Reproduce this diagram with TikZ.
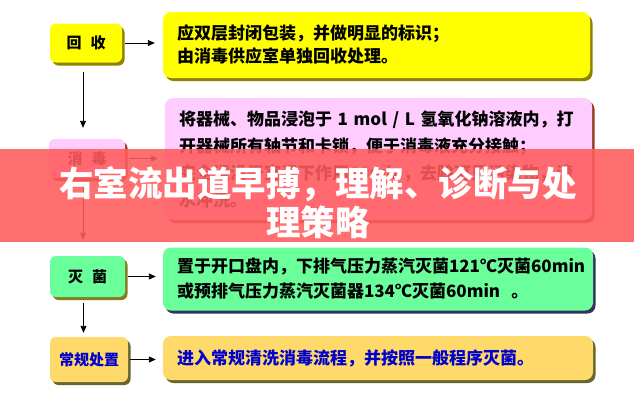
\documentclass[tikz,border=0pt]{standalone}
\usepackage{fontspec}
\newfontfamily\cjk{Noto Sans CJK SC}
\usetikzlibrary{arrows.meta,shadows}
\definecolor{yelF}{HTML}{FFFF00}
\definecolor{yelS}{HTML}{8F8200}
\definecolor{pinkF}{HTML}{FFCCFF}
\definecolor{pinkS}{HTML}{9A3A2A}
\definecolor{grnF}{HTML}{6BFF9B}
\definecolor{grnS}{HTML}{33335E}
\definecolor{grnSL}{HTML}{8A7A20}
\definecolor{orgF}{HTML}{FFD96A}
\definecolor{orgS}{HTML}{66662E}
\definecolor{txtblue}{HTML}{0000CC}
\definecolor{banner}{HTML}{FF5C5C}
\tikzset{
  rbox/.style={rounded corners=8pt, inner xsep=14pt, inner ysep=0pt, align=left,
    text width=#1, font=\cjk\bfseries\fontsize{17}{23}\selectfont},
  lbox/.style={rounded corners=6pt, align=center, inner sep=0pt,
    font=\cjk\bfseries\fontsize{15}{18}\selectfont},
  shad/.style={general shadow={shadow xshift=2.5pt, shadow yshift=-3pt, fill=#1}},
  arr/.style={-{Triangle[length=7pt,width=6pt]}, line width=0.9pt},
  bannertext/.style={text=white, font=\cjk\bfseries\fontsize{34.5}{39}\selectfont, inner sep=0pt}
}
\begin{document}
\begin{tikzpicture}[x=1pt,y=-1pt]
\useasboundingbox[fill=white] (0,0) rectangle (634,402);

% left boxes
\node[lbox, shad=yelS, fill=yelF, minimum width=72pt, minimum height=39pt] (huishou) at (86,43) {回\hspace{0.6em}收};
\node[lbox, shad=pinkS, fill=pinkF, minimum width=76pt, minimum height=39pt] (xiaodu) at (87,158.5) {消\hspace{0.6em}毒};
\node[lbox, shad=grnSL, fill=grnF, minimum width=75pt, minimum height=41pt] (miejun) at (87.5,276.5) {灭\hspace{0.6em}菌};
\node[lbox, shad=orgS, fill=orgF, minimum width=78pt, minimum height=45pt, text=txtblue] (changgui) at (89,359.5) {常规处置};

% right boxes
\node[rbox=399pt, shad=yelS, fill=yelF, minimum height=66pt] (r1) at (376.5,45)
  {应双层封闭包装，并做明显的标识；\\由消毒供应室单独回收处理。};
\node[rbox=399pt, shad=pinkS, fill=pinkF, minimum height=122pt,
  font=\cjk\bfseries\fontsize{17}{27}\selectfont] (r2) at (378.5,159)
  {将器械、物品浸泡于 1 mol / L 氢氧化钠溶液内，打\\开器械所有轴节和卡锁，便于消毒液充分接触；\\完全浸没于室温下作用60min，去除可见污染物，清\\水冲洗。};
\node[rbox=402pt, shad=grnS, fill=grnF, minimum height=63pt,
  font=\cjk\bfseries\fontsize{17}{25}\selectfont] (r3) at (378,279)
  {置于开口盘内，下排气压力蒸汽灭菌121℃灭菌60min\\或预排气压力蒸汽灭菌器134℃灭菌60min\ \ 。};
\node[rbox=402pt, shad=orgS, fill=orgF, minimum height=44pt, text=txtblue] (r4) at (378,358)
  {进入常规清洗消毒流程，并按照一般程序灭菌。};

% horizontal connectors
\draw[arr, shorten <=3pt, shorten >=8pt] (huishou.east) -- (huishou.east -| r1.west);
\draw[arr, shorten <=4pt, shorten >=7pt] (xiaodu.east) -- (xiaodu.east -| r2.west);
\draw[arr, shorten <=3pt, shorten >=7pt] (miejun.east) -- (miejun.east -| r3.west);
\draw[arr, shorten <=2pt, shorten >=7pt] (changgui.east) -- (changgui.east -| r4.west);

% vertical connectors
\draw[arr, shorten <=9pt, shorten >=11pt] ([xshift=-3pt]huishou.south) -- ([xshift=-3pt]huishou.south |- xiaodu.north);
\draw[arr, shorten <=8pt, shorten >=16pt] ([xshift=-4pt]xiaodu.south) -- ([xshift=-4pt]xiaodu.south |- miejun.north);
\draw[arr, shorten <=6pt, shorten >=4pt] ([xshift=-4pt]miejun.south) -- ([xshift=-4pt]miejun.south |- changgui.north);

% banner overlay
\fill[banner, opacity=0.88] (0,149) rectangle (634,242);
\node[bannertext] (b1) at (318,184) {右室流出道早搏，理解、诊断与处};
\node[bannertext] (b2) at (318,222) {理策略};
\end{tikzpicture}
\end{document}
